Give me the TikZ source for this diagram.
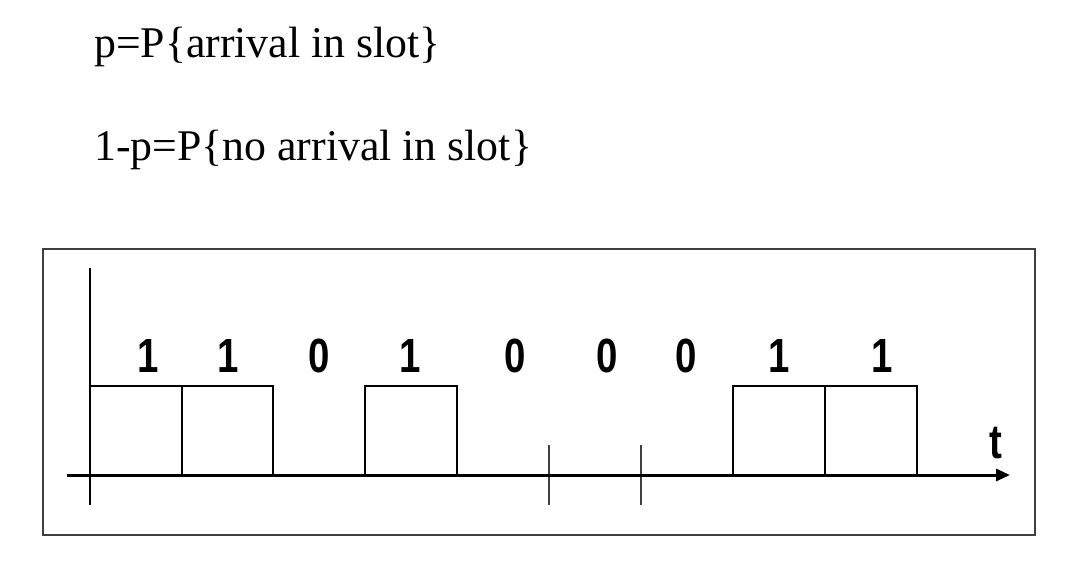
\documentclass[tikz,border=0pt]{standalone}
\usepackage{fontspec}
\setmainfont{Liberation Serif}
\newfontfamily\arialf{Liberation Sans}
\usetikzlibrary{arrows.meta}
\definecolor{framegray}{HTML}{404040}
\tikzset{
  eqtext/.style={anchor=base west, inner sep=0pt, font=\fontsize{43.8}{50}\selectfont},
  digit/.style={anchor=base, inner sep=0pt, font=\arialf\bfseries\fontsize{48}{50}\selectfont},
  slotbox/.style={draw=black, line width=1.1pt},
  tickline/.style={draw=black!75, line width=1.1pt},
  axisline/.style={draw=black, line width=3pt},
}
\newcommand{\dg}[1]{\scalebox{0.8}[1]{#1}}
\begin{document}
\begin{tikzpicture}[x=1pt,y=-1pt]
\useasboundingbox (0,0) rectangle (1065,570);
% equations
\node[eqtext] (eq1) at (94,57) {p=P\{arrival in slot\}};
\node[eqtext] (eq2) at (94,160) {1-p=P\{no arrival in slot\}};
% frame
\draw[framegray, line width=1.5pt] (43,249) rectangle (1035,535);
% axes
\coordinate (ytop) at (90,268);
\coordinate (ybot) at (90,505);
\coordinate (xstart) at (67,475);
\coordinate (xend) at (1010,475);
\draw[black, line width=1.1pt] (ytop) -- (ybot);
% boxes
\draw[slotbox] (90,475) rectangle (182,386);
\draw[slotbox] (182,475) rectangle (273,386);
\draw[slotbox] (365,475) rectangle (457,386);
\draw[slotbox] (733,475) rectangle (825,386);
\draw[slotbox] (825,475) rectangle (917,386);
% ticks
\draw[tickline] (549,445) -- (549,505);
\draw[tickline] (641,445) -- (641,505);
\draw[axisline, -{Triangle[length=14pt,width=12pt]}] (xstart) -- (xend);
% digits
\node[digit] (d1) at (148,372) {\dg{1}};
\node[digit] (d2) at (228,372) {\dg{1}};
\node[digit] (d3) at (319,372) {\dg{0}};
\node[digit] (d4) at (410,372) {\dg{1}};
\node[digit] (d5) at (515,372) {\dg{0}};
\node[digit] (d6) at (607,372) {\dg{0}};
\node[digit] (d7) at (686,372) {\dg{0}};
\node[digit] (d8) at (779,372) {\dg{1}};
\node[digit] (d9) at (882,372) {\dg{1}};
\node[digit] (tl) at (996,458) {\dg{t}};
\end{tikzpicture}
\end{document}
